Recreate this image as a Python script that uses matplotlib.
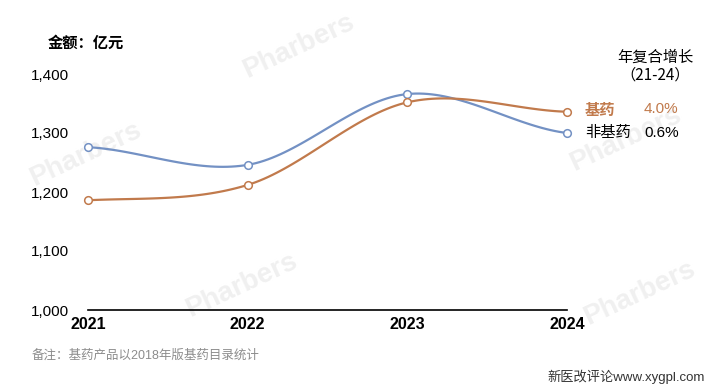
import numpy as np
import matplotlib.pyplot as plt

years = [2021, 2022, 2023, 2024]
jiyao = [1186, 1212, 1352, 1336]        # 基药
feijiyao = [1276, 1246, 1366, 1300]     # 非基药
cagr_labels = ['4.0%', '0.6%']
yticks = [1000, 1100, 1200, 1300, 1400]

blue = '#7391c4'
orange = '#c17a4c'

plt.rcParams['font.family'] = ['Liberation Sans', 'Noto Sans CJK SC', 'DejaVu Sans']


def smooth(x, y, n=40, t=0.5):
    # cardinal spline through the points, like a spreadsheet "smoothed line"
    x = np.asarray(x, float)
    y = np.asarray(y, float)
    px = np.concatenate([[2 * x[0] - x[1]], x, [2 * x[-1] - x[-2]]])
    py = np.concatenate([[y[0]], y, [y[-1]]])
    xs, ys = [], []
    for i in range(1, len(px) - 2):
        s = np.linspace(0, 1, n)
        m0x, m1x = t * (px[i + 1] - px[i - 1]), t * (px[i + 2] - px[i])
        m0y, m1y = t * (py[i + 1] - py[i - 1]), t * (py[i + 2] - py[i])
        h00 = 2 * s**3 - 3 * s**2 + 1
        h10 = s**3 - 2 * s**2 + s
        h01 = -2 * s**3 + 3 * s**2
        h11 = s**3 - s**2
        xs.append(h00 * px[i] + h10 * m0x + h01 * px[i + 1] + h11 * m1x)
        ys.append(h00 * py[i] + h10 * m0y + h01 * py[i + 1] + h11 * m1y)
    return np.concatenate(xs), np.concatenate(ys)


fig = plt.figure(figsize=(7.11, 3.86), dpi=100)
ax = fig.add_axes([88 / 711, 1 - 310 / 386, (567 - 88) / 711, (310 - 74) / 386])
ax.set_zorder(2)

# faint watermarks
for wx, wy in [(0.42, 0.88), (0.12, 0.60), (0.34, 0.26), (0.88, 0.64), (0.90, 0.24)]:
    fig.text(wx, wy, 'Pharbers', fontsize=20, fontweight='bold', color='#f0f0f0',
             rotation=25, ha='center', va='center', zorder=-1)

for vals, col in [(feijiyao, blue), (jiyao, orange)]:
    sx, sy = smooth(years, vals)
    ax.plot(sx, sy, color=col, lw=1.6, clip_on=False, zorder=3)
    ax.plot(years, vals, 'o', ms=5.5, mfc='white', mec=col, mew=1.1, clip_on=False, zorder=4)

ax.set_xlim(2021, 2024)
ax.set_ylim(1000, 1400)
ax.set_xticks(years)
ax.set_xticklabels([str(y) for y in years], fontsize=11.5, fontweight='bold')
ax.set_yticks(yticks)
ax.set_yticklabels([f'{v:,}' for v in yticks], fontsize=11)
ax.tick_params(length=0)
ax.tick_params(axis='x', pad=5)
ax.tick_params(axis='y', pad=14)
for side in ['top', 'right', 'left']:
    ax.spines[side].set_visible(False)
ax.spines['bottom'].set_color('black')
ax.spines['bottom'].set_linewidth(1.2)
ax.patch.set_alpha(0)

fig.text(48 / 711, 1 - 43 / 386, '金额：亿元', fontsize=11, fontweight='bold', va='center', ha='left')
fig.text(655 / 711, 1 - 58 / 386, '年复合增长', fontsize=11, va='center', ha='center')
fig.text(655 / 711, 1 - 75 / 386, '（21-24）', fontsize=11, va='center', ha='center',
         family=['Noto Sans CJK SC'])
fig.text(585 / 711, 1 - 111 / 386, '基药', fontsize=11, fontweight='bold', color=orange, va='center')
fig.text(644 / 711, 1 - 109 / 386, cagr_labels[0], fontsize=11, color=orange, va='center')
fig.text(585 / 711, 1 - 133 / 386, '非基药', fontsize=11, va='center')
fig.text(644 / 711, 1 - 133 / 386, cagr_labels[1], fontsize=11, va='center')

fig.text(32 / 711, 1 - 356 / 386, '备注：基药产品以2018年版基药目录统计', fontsize=9, color='#8c8c8c', va='center')
fig.text(705 / 711, 1 - 377 / 386, '新医改评论www.xygpl.com', fontsize=9.5, color='#333333', va='center', ha='right')

fig.savefig('out.png', dpi=100)
